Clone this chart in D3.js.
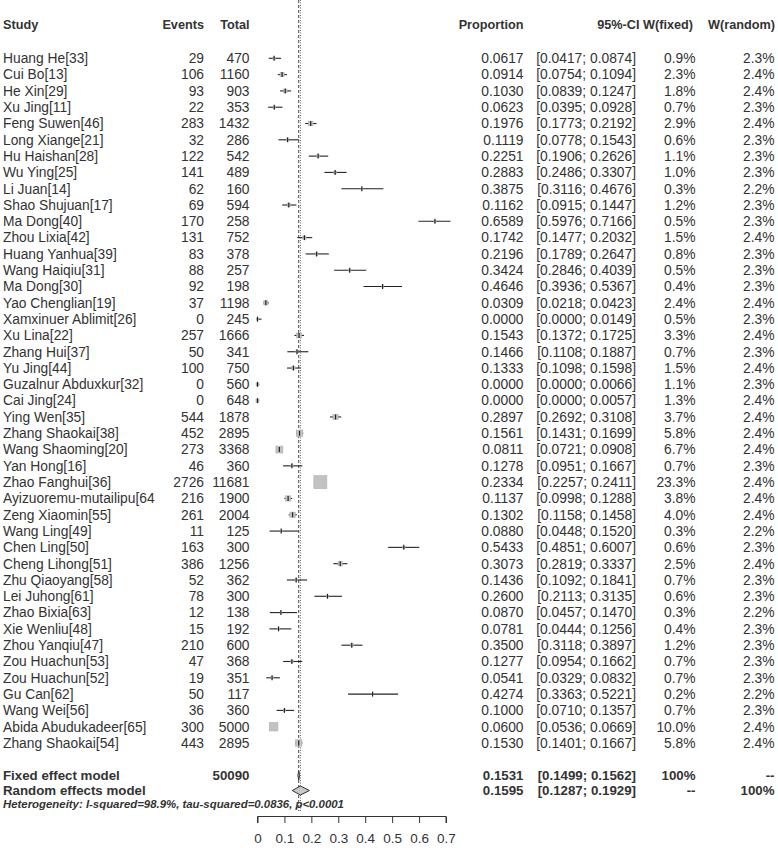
<!DOCTYPE html>
<html><head><meta charset="utf-8">
<script src="https://cdn.jsdelivr.net/npm/d3@7"></script>
<style>body{margin:0;background:#fff}svg{display:block}text{font-family:"Liberation Sans",Arial,sans-serif}</style>
</head><body><svg id="c" width="778" height="848"></svg>
<script>
const studies = ["Huang He[33]","Cui Bo[13]","He Xin[29]","Xu Jing[11]","Feng Suwen[46]","Long Xiange[21]","Hu Haishan[28]","Wu Ying[25]","Li Juan[14]","Shao Shujuan[17]","Ma Dong[40]","Zhou Lixia[42]","Huang Yanhua[39]","Wang Haiqiu[31]","Ma Dong[30]","Yao Chenglian[19]","Xamxinuer Ablimit[26]","Xu Lina[22]","Zhang Hui[37]","Yu Jing[44]","Guzalnur Abduxkur[32]","Cai Jing[24]","Ying Wen[35]","Zhang Shaokai[38]","Wang Shaoming[20]","Yan Hong[16]","Zhao Fanghui[36]","Ayizuoremu-mutailipu[64","Zeng Xiaomin[55]","Wang Ling[49]","Chen Ling[50]","Cheng Lihong[51]","Zhu Qiaoyang[58]","Lei Juhong[61]","Zhao Bixia[63]","Xie Wenliu[48]","Zhou Yanqiu[47]","Zou Huachun[53]","Zou Huachun[52]","Gu Can[62]","Wang Wei[56]","Abida Abudukadeer[65]","Zhang Shaokai[54]"];
const events = [29,106,93,22,283,32,122,141,62,69,170,131,83,88,92,37,0,257,50,100,0,0,544,452,273,46,2726,216,261,11,163,386,52,78,12,15,210,47,19,50,36,300,443];
const totals = [470,1160,903,353,1432,286,542,489,160,594,258,752,378,257,198,1198,245,1666,341,750,560,648,1878,2895,3368,360,11681,1900,2004,125,300,1256,362,300,138,192,600,368,351,117,360,5000,2895];
const proportion = [0.0617,0.0914,0.1030,0.0623,0.1976,0.1119,0.2251,0.2883,0.3875,0.1162,0.6589,0.1742,0.2196,0.3424,0.4646,0.0309,0.0000,0.1543,0.1466,0.1333,0.0000,0.0000,0.2897,0.1561,0.0811,0.1278,0.2334,0.1137,0.1302,0.0880,0.5433,0.3073,0.1436,0.2600,0.0870,0.0781,0.3500,0.1277,0.0541,0.4274,0.1000,0.0600,0.1530];
const ciLower = [0.0417,0.0754,0.0839,0.0395,0.1773,0.0778,0.1906,0.2486,0.3116,0.0915,0.5976,0.1477,0.1789,0.2846,0.3936,0.0218,0.0000,0.1372,0.1108,0.1098,0.0000,0.0000,0.2692,0.1431,0.0721,0.0951,0.2257,0.0998,0.1158,0.0448,0.4851,0.2819,0.1092,0.2113,0.0457,0.0444,0.3118,0.0954,0.0329,0.3363,0.0710,0.0536,0.1401];
const ciUpper = [0.0874,0.1094,0.1247,0.0928,0.2192,0.1543,0.2626,0.3307,0.4676,0.1447,0.7166,0.2032,0.2647,0.4039,0.5367,0.0423,0.0149,0.1725,0.1887,0.1598,0.0066,0.0057,0.3108,0.1699,0.0908,0.1667,0.2411,0.1288,0.1458,0.1520,0.6007,0.3337,0.1841,0.3135,0.1470,0.1256,0.3897,0.1662,0.0832,0.5221,0.1357,0.0669,0.1667];
const wFixed = [0.9,2.3,1.8,0.7,2.9,0.6,1.1,1.0,0.3,1.2,0.5,1.5,0.8,0.5,0.4,2.4,0.5,3.3,0.7,1.5,1.1,1.3,3.7,5.8,6.7,0.7,23.3,3.8,4.0,0.3,0.6,2.5,0.7,0.6,0.3,0.4,1.2,0.7,0.7,0.2,0.7,10.0,5.8];
const wRandom = [2.3,2.4,2.4,2.3,2.4,2.3,2.3,2.3,2.2,2.3,2.3,2.4,2.3,2.3,2.3,2.4,2.3,2.4,2.3,2.4,2.3,2.4,2.4,2.4,2.4,2.3,2.4,2.4,2.4,2.2,2.3,2.4,2.3,2.3,2.2,2.3,2.3,2.3,2.3,2.2,2.3,2.4,2.4];
const fixedModel = {label:"Fixed effect model", total:50090, est:0.1531, lo:0.1499, hi:0.1562, wf:"100%", wr:"--"};
const randomModel = {label:"Random effects model", est:0.1595, lo:0.1287, hi:0.1929, wf:"--", wr:"100%"};
const hetText = "Heterogeneity: I-squared=98.9%, tau-squared=0.0836, p<0.0001";
const headers = ["Study","Events","Total","Proportion","95%-CI","W(fixed)","W(random)"];
const xTicks = [0,0.1,0.2,0.3,0.4,0.5,0.6,0.7];

const svg = d3.select("#c");
const FS = 13.8, HFS = 12.7, COL = "#333";
const x = d3.scaleLinear().domain([0,0.7]).range([257.5,446]);
const idx = d3.range(studies.length);
const y = d3.scaleLinear().domain([0, studies.length-1]).range([58.3, 743]);
const yFixed = 775.5, yRandom = 790.5, yHet = 804, yAxis = 816.5;
const f4 = d3.format(".4f");
const colX = {study:3, events:204, total:249.5, prop:523.5, ci:636, wf:695.5, wr:774.5};
const boxSide = w => 2.69*Math.sqrt(w);

function txt(g, xx, yy, s, anchor, bold, size){
  return g.append("text").attr("x",xx).attr("y",yy).attr("dy","0.35em")
    .attr("text-anchor",anchor).attr("fill",COL).attr("font-size",size||FS)
    .attr("font-weight",bold?"bold":"normal").text(s);
}

// reference lines (fixed: dashed, random: dotted)
svg.append("line").attr("x1",x(fixedModel.est)).attr("x2",x(fixedModel.est))
  .attr("y1",0).attr("y2",811).attr("stroke","#444").attr("stroke-width",1).attr("stroke-dasharray","3,2");
svg.append("line").attr("x1",x(randomModel.est)).attr("x2",x(randomModel.est))
  .attr("y1",0).attr("y2",811).attr("stroke","#666").attr("stroke-width",1).attr("stroke-dasharray","1,1.5");

// headers
const hy = 25;
txt(svg, colX.study, hy, headers[0], "start", true, HFS);
txt(svg, colX.events, hy, headers[1], "end", true, HFS);
txt(svg, colX.total, hy, headers[2], "end", true, HFS);
txt(svg, colX.prop, hy, headers[3], "end", true, HFS);
txt(svg, 639.5, hy, headers[4], "end", true, HFS);
txt(svg, 693, hy, headers[5], "end", true, HFS);
txt(svg, 775, hy, headers[6], "end", true, HFS);

// study rows
const rows = svg.append("g");
idx.forEach(i => {
  const yy = y(i);
  txt(rows, colX.study, yy, studies[i], "start");
  txt(rows, colX.events, yy, events[i], "end");
  txt(rows, colX.total, yy, totals[i], "end");
  txt(rows, colX.prop, yy, f4(proportion[i]), "end");
  txt(rows, colX.ci, yy, "[" + f4(ciLower[i]) + "; " + f4(ciUpper[i]) + "]", "end");
  txt(rows, colX.wf, yy, wFixed[i].toFixed(1) + "%", "end");
  txt(rows, colX.wr, yy, wRandom[i].toFixed(1) + "%", "end");
  rows.append("line").attr("x1",x(ciLower[i])).attr("x2",x(ciUpper[i]))
    .attr("y1",yy).attr("y2",yy).attr("stroke","#222").attr("stroke-width",1.1);
  const s = boxSide(wFixed[i]);
  rows.append("rect").attr("x",x(proportion[i])-s/2).attr("y",yy-s/2)
    .attr("width",s).attr("height",s).attr("fill","#c2c2c2").attr("stroke","#b0b0b0").attr("stroke-width",0.6);
  if (s < 7) {
    rows.append("line").attr("x1",x(proportion[i])).attr("x2",x(proportion[i]))
      .attr("y1",yy-2.5).attr("y2",yy+2.5).attr("stroke","#222").attr("stroke-width",1.2);
  }
});

// summary rows
[[fixedModel,yFixed],[randomModel,yRandom]].forEach(([m,yy]) => {
  txt(svg, colX.study, yy, m.label, "start", true, 13.3);
  if (m.total) txt(svg, colX.total, yy, m.total, "end", true, 13.3);
  txt(svg, colX.prop, yy, f4(m.est), "end", true, 13.3);
  txt(svg, colX.ci, yy, "[" + f4(m.lo) + "; " + f4(m.hi) + "]", "end", true, 13.3);
  txt(svg, colX.wf, yy, m.wf, "end", true, 13.3);
  txt(svg, colX.wr, yy, m.wr, "end", true, 13.3);
  const h = 4.5;
  svg.append("path")
    .attr("d", `M${x(m.lo)},${yy} L${x(m.est)},${yy-h} L${x(m.hi)},${yy} L${x(m.est)},${yy+h} Z`)
    .attr("fill","#c8c8c8").attr("stroke","#333").attr("stroke-width",1);
});

// heterogeneity
svg.append("text").attr("x",3).attr("y",yHet).attr("dy","0.35em").attr("fill",COL)
  .attr("font-size",11.4).attr("font-weight","bold").attr("font-style","italic").text(hetText);

// axis
const axis = d3.axisBottom(x).tickValues(xTicks).tickFormat(d3.format("")).tickSize(6.5).tickPadding(10);
const ag = svg.append("g").attr("transform",`translate(0,${yAxis})`).call(axis);
ag.select(".domain").attr("stroke","#333").attr("d",`M${x(0)},6.5V0H${x(0.7)}V6.5`);
ag.selectAll(".tick line").attr("stroke","#333");
ag.selectAll(".tick text").attr("fill",COL).attr("font-size",13.5).attr("font-family","Liberation Sans, Arial, sans-serif");
</script></body></html>
